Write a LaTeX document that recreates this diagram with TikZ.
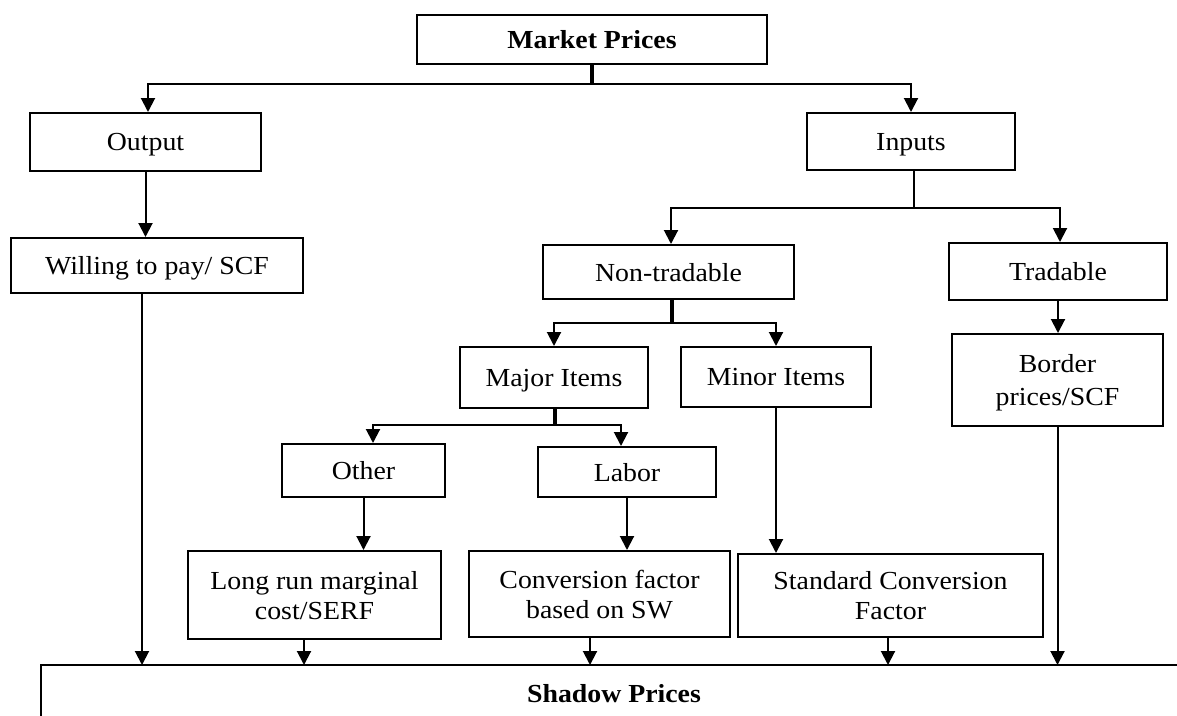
\documentclass[tikz,border=0pt]{standalone}
\usepackage{fontspec}
\setmainfont[FakeStretch=1.07]{Liberation Serif}
\usetikzlibrary{arrows.meta}
\begin{document}
\begin{tikzpicture}[x=1pt,y=-1pt,
  txt/.style={font=\fontsize{26}{30}\selectfont},
  box/.style={draw, line width=2pt, inner sep=0pt, align=center, text depth=0pt, txt},
  conn/.style={line width=2pt},
  arr/.style={line width=2pt, -{Triangle[length=14pt,width=14pt]}},
  stem/.style={line width=4.5pt}]
\useasboundingbox (0,0) rectangle (1177,715);
% boxes
\node[box, minimum width=350pt, minimum height=49pt, font=\fontsize{26}{30}\selectfont\bfseries] (market) at (592,39.5) {Market Prices};
\node[box, minimum width=231pt, minimum height=58pt] (output) at (145.5,142) {Output};
\node[box, minimum width=208pt, minimum height=57pt] (inputs) at (911,141.5) {Inputs};
\node[box, minimum width=292pt, minimum height=55pt] (willing) at (157,265.5) {Willing to pay/ SCF};
\node[box, minimum width=251pt, minimum height=54pt] (nontrad) at (668.5,272) {Non-tradable};
\node[box, minimum width=218pt, minimum height=57pt] (trad) at (1058,271.5) {Tradable};
\node[box, minimum width=188pt, minimum height=61pt] (major) at (554,377.5) {Major Items};
\node[box, minimum width=190pt, minimum height=60pt] (minor) at (776,377) {Minor Items};
\node[box, minimum width=211pt, minimum height=92pt, font=\fontsize{26}{33}\selectfont] (border) at (1057.5,380) {Border\\prices/SCF};
\node[box, minimum width=163pt, minimum height=53pt] (other) at (363.5,470.5) {Other};
\node[box, minimum width=178pt, minimum height=50pt] (labor) at (627,472) {Labor};
\node[box, minimum width=253pt, minimum height=88pt] (longrun) at (314.5,595) {Long run marginal\\cost/SERF};
\node[box, minimum width=261pt, minimum height=86pt] (conv) at (599.5,594) {Conversion factor\\based on SW};
\node[box, minimum width=305pt, minimum height=83pt] (standard) at (890.5,595.5) {Standard Conversion\\Factor};
% shadow prices (open box)
\coordinate (sh) at (41,665);
\draw[line width=2pt] (41,716) -- (sh) -- (1180,665);
\node[txt, font=\fontsize{26}{30}\selectfont\bfseries] (shadow) at (614,694) {Shadow Prices};
% market split
\draw[stem] (market.south) -- ++(0,19) coordinate (mj);
\draw[arr] (mj) -| ([xshift=2.5pt]output.north);
\draw[arr] (mj) -| (inputs.north);
% output branch
\draw[arr] (output.south) -- (output.south |- willing.north);
\draw[arr] ([xshift=-15pt]willing.south) -- ([xshift=-15pt]willing.south |- sh);
% inputs split
\draw[conn] ([xshift=3pt]inputs.south) -- ++(0,37) coordinate (ij);
\draw[arr] (ij) -| ([xshift=2.5pt]nontrad.north);
\draw[arr] (ij) -| ([xshift=2pt]trad.north);
% tradable
\draw[arr] (trad.south) -- (trad.south |- border.north);
\draw[arr] (border.south) -- (border.south |- sh);
% non-tradable split
\draw[stem] ([xshift=3.5pt]nontrad.south) -- ++(0,23) coordinate (nj);
\draw[arr] (nj) -| (major.north);
\draw[arr] (nj) -| (minor.north);
% major split
\draw[stem] ([xshift=1pt]major.south) -- ++(0,16) coordinate (mjj);
\draw[arr] (mjj) -| ([xshift=9.5pt]other.north);
\draw[arr] (mjj) -| ([xshift=-6pt]labor.north);
% minor
\draw[arr] (minor.south) -- (minor.south |- standard.north);
% other, labor
\draw[arr] (other.south) -- (other.south |- longrun.north);
\draw[arr] (labor.south) -- (labor.south |- conv.north);
% into shadow prices
\draw[arr] ([xshift=-10.5pt]longrun.south) -- ([xshift=-10.5pt]longrun.south |- sh);
\draw[arr] ([xshift=-9.5pt]conv.south) -- ([xshift=-9.5pt]conv.south |- sh);
\draw[arr] ([xshift=-2.5pt]standard.south) -- ([xshift=-2.5pt]standard.south |- sh);
\end{tikzpicture}
\end{document}
